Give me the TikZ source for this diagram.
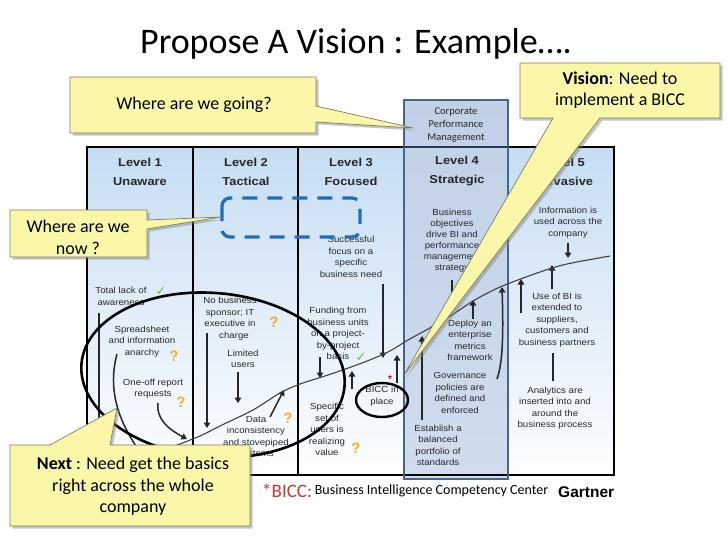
\documentclass[tikz,border=0pt]{standalone}
\usepackage{fontspec}
\setmainfont{Carlito}
\newfontfamily\arialf{Liberation Sans}
\newfontfamily\arialw[FakeStretch=1.1]{Liberation Sans}
\newfontfamily\arialh[FakeStretch=1.12]{Liberation Sans}
\newfontfamily\dejavuf{DejaVu Sans}
\usetikzlibrary{arrows.meta,shadows,calc}
\definecolor{calloutfill}{RGB}{250,247,168}
\definecolor{calloutedge}{RGB}{125,125,95}
\definecolor{colTop}{RGB}{198,221,243}
\definecolor{colBot}{RGB}{253,254,255}
\definecolor{lvFour}{RGB}{192,208,230}
\definecolor{lvFourB}{RGB}{208,221,238}
\definecolor{lvFourEdge}{RGB}{70,100,145}
\definecolor{dashBlue}{RGB}{30,110,190}
\definecolor{qOrange}{RGB}{240,176,40}
\definecolor{chkGreen}{RGB}{110,190,80}
\definecolor{bicRed}{RGB}{192,57,43}
\definecolor{txtGray}{RGB}{40,40,40}
\newcommand\mytabfont{\arialw\fontsize{8.8}{11.5}\selectfont}
\newcommand\myhdfont{\arialh\bfseries\fontsize{11.5}{19}\selectfont}
\newcommand\myqfont{\arialf\bfseries\fontsize{15}{15}\selectfont}
\newcommand\mychkfont{\dejavuf\fontsize{13}{13}\selectfont}
\begin{document}
\begin{tikzpicture}[x=1pt,y=-1pt,
  tt/.style={font=\mytabfont, text=txtGray, align=center, inner sep=0pt},
  hd/.style={font=\myhdfont, text=txtGray, align=center, inner sep=0pt},
  arr/.style={line width=1.5pt, draw=black!85, -{Triangle[width=6.5pt,length=5.5pt]}},
  plainln/.style={line width=1.5pt, draw=black!85},
  callout/.style={fill=calloutfill, draw=calloutedge, line width=0.7pt,
     drop shadow={opacity=0.45, shadow xshift=2.5pt, shadow yshift=-2.5pt}},
  ctext/.style={font=\fontsize{18}{21.5}\selectfont, align=center, inner sep=0pt},
  qm/.style={font=\myqfont, text=qOrange, inner sep=0pt},
  chk/.style={font=\mychkfont, text=chkGreen, inner sep=0pt}]
\useasboundingbox (0,0) rectangle (728,546);
\fill[white] (0,0) rectangle (728,546);

% title
\node[font=\fontsize{36}{38}\selectfont] (title) at (356,44) {Propose A Vision : Example….};

% table background
\shade[top color=colTop, bottom color=colBot] (87,147) rectangle (614,475);
\shade[top color=lvFour, bottom color=lvFourB] (404,100) rectangle (508,479);
\draw[line width=2.2pt] (87,147) rectangle (614,475);
\foreach \xx in {193,298} \draw[line width=1.8pt] (\xx,147) -- (\xx,475);
\draw[lvFourEdge, line width=1.8pt] (404,100) rectangle (508,479);
\draw[lvFourEdge!60!black, line width=1.8pt] (404,147) -- (508,147);

% corporate performance management
\node[font=\fontsize{10.5}{13}\selectfont, align=center, text=txtGray] (cpm) at (456,125) {Corporate\\Performance\\Management};

% headers
\node[hd] (h1) at (140,171.5) {Level 1\\Unaware};
\node[hd] (h2) at (246,171.5) {Level 2\\Tactical};
\node[hd] (h3) at (351,171.5) {Level 3\\Focused};
\node[hd] (h4) at (457,171.5) {Level 4\\Strategic};
\node[hd] (h5) at (563,171.5) {Level 5\\Pervasive};

% level 1 texts
\node[tt] (t1a) at (121,296.5) {Total lack of\\awareness};
\node[chk] (c1) at (161,291) {✓};
\node[tt] (t1b) at (142,341.5) {Spreadsheet\\and information\\anarchy};
\node[qm] (q1) at (174,356) {?};
\node[tt] (t1c) at (153,388.5) {One-off report\\requests};
\node[qm] (q2) at (181,402) {?};
% level 2 texts
\node[tt] (t2a) at (230,318.5) {No business\\sponsor; IT\\executive in\\\hspace*{8pt}charge};
\node[qm] (q3) at (274,322) {?};
\node[tt] (t2b) at (243,359) {Limited\\users};
\node[tt] (t2c) at (256,437.5) {Data\\inconsistency\\and stovepiped\\systems};
\node[qm] (q4) at (288,418) {?};
% level 3 texts
\node[tt] (t3a) at (351,257) {Successful\\focus on a\\specific\\business need};
\node[tt] (t3b) at (338,333.5) {Funding from\\business units\\on a project-\\by-project\\basis};
\node[chk] (c2) at (361,357) {✓};
\node[tt] (t3c) at (327,429.5) {Specific\\set of\\users is\\realizing\\value};
\node[qm] (q5) at (356,448) {?};
\node[tt] (bicc) at (382,396) {BICC in\\place};
\node[text=red!80!black, font=\arialf\bfseries\fontsize{10}{10}\selectfont, inner sep=0pt] (star) at (390,379) {*};
% level 4 texts
\node[tt, font=\arialw\fontsize{8.8}{11.1}\selectfont] (t4a) at (452,240.5) {Business\\objectives\\drive BI and\\performance\\management\\strategy};
\node[tt] (t4b) at (470,340.5) {Deploy an\\enterprise\\metrics\\framework};
\node[tt] (t4c) at (460,393) {Governance\\policies are\\defined and\\enforced};
\node[tt] (t4d) at (438,445.5) {Establish a\\balanced\\portfolio of\\standards};
% level 5 texts
\node[tt] (t5a) at (568,222.5) {Information is\\used across the\\company};
\node[tt] (t5b) at (557,320) {Use of BI is\\extended to\\suppliers,\\customers and\\business partners};
\node[tt] (t5c) at (555,408) {Analytics are\\inserted into and\\around the\\business process};

% arrow end points
\coordinate (a1s) at (99,313);  \coordinate (a1e) at (99,446);
\coordinate (a2s) at (117,354); \coordinate (a2e) at (136,446);
\coordinate (a3s) at (158,403); \coordinate (a3e) at (187,439);
\coordinate (a4s) at (207,333); \coordinate (a4e) at (207,428);
\coordinate (a5s) at (238,372); \coordinate (a5e) at (238,403);
\coordinate (a6s) at (270,417); \coordinate (a6e) at (284,390);
\coordinate (a7s) at (383,284); \coordinate (a7e) at (383,358);
\coordinate (a8s) at (320,357); \coordinate (a8e) at (320,378);
\coordinate (a9s) at (352,389); \coordinate (a9e) at (352,371);
\coordinate (a10s) at (397,383); \coordinate (a10e) at (397,355);
\coordinate (a11s) at (452,280); \coordinate (a11e) at (452,302);
\coordinate (a12s) at (473,319); \coordinate (a12e) at (473,300);
\coordinate (a13s) at (422,420); \coordinate (a13e) at (422,336);
\coordinate (a14s) at (497,379); \coordinate (a14e) at (502,287);
\coordinate (a15s) at (568,243); \coordinate (a15e) at (568,258);
\coordinate (a16s) at (552,289); \coordinate (a16e) at (552,265);
\coordinate (a17s) at (521,313); \coordinate (a17e) at (521,279);
\coordinate (a18s) at (553,353); \coordinate (a18e) at (553,381);

\draw[plainln] (a1s) -- (a1e);
\draw[plainln] (a2s) .. controls (110,380) and (112,410) .. (a2e);
\draw[arr] (a3s) .. controls (156,420) and (170,430) .. (a3e);
\draw[arr] (a4s) -- (a4e);
\draw[arr] (a5s) -- (a5e);
\draw[arr] (a6s) -- (a6e);
\draw[arr] (a7s) -- (a7e);
\draw[arr] (a8s) -- (a8e);
\draw[arr] (a9s) -- (a9e);
\draw[arr] (a10s) -- (a10e);
\draw[arr] (a11s) -- (a11e);
\draw[arr] (a12s) -- (a12e);
\draw[arr] (a13s) -- (a13e);
\draw[arr] (a14s) .. controls (504,360) and (503,320) .. (a14e);
\draw[arr] (a15s) -- (a15e);
\draw[arr] (a16s) -- (a16e);
\draw[arr] (a17s) -- (a17e);
\draw[plainln] (a18s) -- (a18e);

% maturity curve
\draw[line width=1.1pt, draw=black!75] plot[smooth, tension=0.5] coordinates {
 (172,447) (200,436) (222,425) (253,410) (280,393) (300,384) (328,375)
 (362,363) (388,352) (408,340) (428,329) (455,313) (473,301) (500,287)
 (540,272) (567,264) (610,256)};

% ellipses
\draw[line width=2.6pt] [rotate around={-5:(213,375)}] (213,375) ellipse [x radius=132, y radius=82];
\draw[line width=2.4pt] (382,400) ellipse [x radius=26, y radius=17];

% dashed rectangle
\draw[dashBlue, line width=3.3pt, dash pattern=on 15pt off 10pt, rounded corners=8pt] (222,198) rectangle (360,237);

% callouts
\coordinate (goTip) at (413,128);
\path[callout] (70,77) -- (316,77) -- (316,106) -- (goTip) -- (316,122) -- (316,133) -- (70,133) -- cycle;
\node[ctext] (going) at (194,105) {Where are we going?};

\coordinate (nowTip) at (221,217);
\path[callout] (10,210) -- (147,210) -- (147,220) -- (nowTip) -- (147,229) -- (147,257) -- (10,257) -- cycle;
\node[ctext] (now) at (78,237.5) {Where are we\\now ?};

\coordinate (visTip) at (404,375);
\path[callout] (520,63) -- (720,63) -- (720,118) -- (600,118) -- (visTip) -- (553,118) -- (520,118) -- cycle;
\node[ctext] (vision) at (620,90) {\textbf{Vision}: Need to\\implement a BICC};

\coordinate (nextTip) at (117,408);
\path[callout] (10,445) -- (50,445) -- (nextTip) -- (110,445) -- (250,445) -- (250,526) -- (10,526) -- cycle;
\node[ctext] (next) at (133,486.5) {\textbf{Next} : Need get the basics\\right across the whole\\company};

% footer
\node[anchor=west, inner sep=0pt, text=bicRed, font=\fontsize{19}{19}\selectfont] (bfoot) at (262,491) {*BICC:};
\node[anchor=west, inner sep=0pt, font=\fontsize{14}{14}\selectfont] (bdef) at (bfoot.east) {\,Business Intelligence Competency Center};
\node[anchor=west, inner sep=0pt, font=\arialf\bfseries\fontsize{15.5}{16}\selectfont] (gart) at (558,492) {Gartner};
\end{tikzpicture}
\end{document}
